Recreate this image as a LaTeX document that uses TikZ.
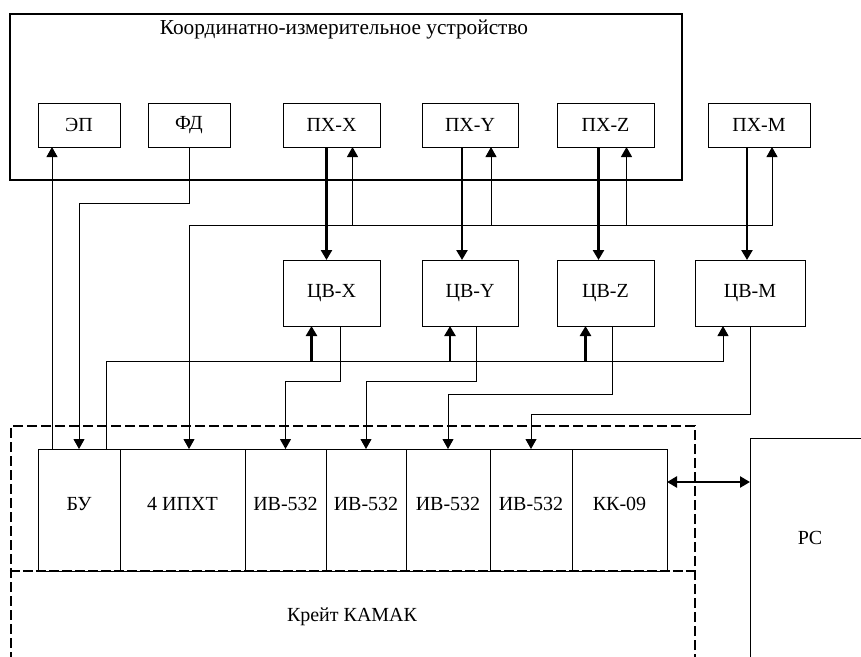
\documentclass[tikz,border=0pt]{standalone}
\usepackage{fontspec}
\setmainfont{Liberation Serif}
\usetikzlibrary{arrows.meta,positioning}

\begin{document}
\begin{tikzpicture}[
    x=1pt, y=-1pt,
    >={Triangle[length=10pt,width=11pt]},
    font=\fontsize{20}{24}\selectfont,
    % 方框與連線樣式
    box/.style={draw, line width=1pt, inner sep=0pt, outer sep=0pt},
    modbox/.style={box, minimum height=122pt, text height=14pt, text depth=14pt},
    sig/.style={->, line width=1pt},
    bus/.style={->, line width=2.4pt},
]
    \useasboundingbox (0,0) rectangle (861,656);
    \clip (0,0) rectangle (861,656);

    % --- 座標參數 (Y 由上往下) ---
    \def\yPx{125}   % ПХ 列中心
    \def\yCv{293}   % ЦВ 列中心
    \def\yMod{510}  % 機箱模組中心

    % --- 1. 座標測量裝置 (大框) ---
    \node[box, line width=2.5pt, minimum width=672pt, minimum height=166pt] (kiu) at (346,97) {};
    \node[font=\fontsize{21.3}{25}\selectfont] (kiutitle) at (344,30) {Координатно-измерительное устройство};

    \node[box, minimum width=82pt, minimum height=44pt] (ep) at (79,\yPx) {ЭП};
    \node[box, minimum width=82pt, minimum height=44pt] (fd) at (189,\yPx) {ФД};
    \node[box, minimum width=97pt, minimum height=44pt] (pxx) at (331.5,\yPx) {ПХ-X};
    \node[box, minimum width=96pt, minimum height=44pt] (pxy) at (470,\yPx) {ПХ-Y};
    \node[box, minimum width=97pt, minimum height=44pt] (pxz) at (605.5,\yPx) {ПХ-Z};
    \node[box, minimum width=102pt, minimum height=44pt] (pxm) at (759,\yPx) {ПХ-M};

    % --- 2. ЦВ 列 ---
    \node[box, minimum width=97pt, minimum height=66pt] (cvx) at (331.5,\yCv) {ЦВ-X};
    \node[box, minimum width=96pt, minimum height=66pt] (cvy) at (470,\yCv) {ЦВ-Y};
    \node[box, minimum width=97pt, minimum height=66pt] (cvz) at (605.5,\yCv) {ЦВ-Z};
    \node[box, minimum width=110pt, minimum height=66pt] (cvm) at (750,\yCv) {ЦВ-M};

    % --- 3. 機箱 КАМАК ---
    \node[draw, line width=2.5pt, dash pattern=on 10pt off 4pt, inner sep=0pt,
          minimum width=684pt, minimum height=254pt] (krate) at (353,553) {};
    \node (krlabel) at (352,617) {Крейт КАМАК};

    \node[modbox, minimum width=82pt] (bu) at (79,\yMod) {БУ};
    \node[modbox, minimum width=125pt] (ipxt) at (182.5,\yMod) {4 ИПХТ};
    \node[modbox, minimum width=81pt] (iv1) at (285.5,\yMod) {ИВ-532};
    \node[modbox, minimum width=80pt] (iv2) at (366,\yMod) {ИВ-532};
    \node[modbox, minimum width=84pt] (iv3) at (448,\yMod) {ИВ-532};
    \node[modbox, minimum width=82pt] (iv4) at (531,\yMod) {ИВ-532};
    \node[modbox, minimum width=95pt] (kk) at (619.5,\yMod) {КК-09};

    \draw[line width=2pt, dash pattern=on 10pt off 3pt] (krate.west |- bu.south) -- (krate.east |- bu.south);

    % --- 4. PC ---
    \node[box, anchor=north west, minimum width=220pt, minimum height=330pt] (pc) at (750,438) {};
    \node (pclabel) at (810,538) {PC};

    % --- 5. 連線 ---
    % БУ -> ЭП
    \draw[sig] ([xshift=-27pt]bu.north) -- ([xshift=-27pt]ep.south);

    % ФД -> БУ
    \coordinate (fdturn) at (189,203);
    \draw[sig] (fd.south) -- (fdturn) -| (bu.north);

    % 4 ИПХТ <-> ПХ
    \coordinate (busA) at (189,225);
    \draw[sig] (busA) -| ([xshift=13pt]pxm.south);
    \draw[sig] (busA) -- (busA |- ipxt.north);
    \foreach \n in {pxx,pxy,pxz}
        \draw[sig] ([xshift=21pt]\n.south |- busA) -- ([xshift=21pt]\n.south);

    % ПХ -> ЦВ (粗線)
    \foreach \a/\b/\d in {pxx/cvx/-5, pxy/cvy/-8, pxz/cvz/-7, pxm/cvm/-12}
        \draw[bus] ([xshift=\d pt]\a.south) -- ([xshift=\d pt]\a.south |- \b.north);

    % БУ -> ЦВ
    \coordinate (busB) at (106,361);
    \draw[sig] ([xshift=27pt]bu.north) -- (busB) -| ([xshift=-27pt]cvm.south);
    \foreach \n in {cvx,cvy,cvz}
        \draw[bus] ([xshift=-20pt]\n.south |- busB) -- ([xshift=-20pt]\n.south);

    % ЦВ -> ИВ-532
    \foreach \a/\b/\d/\h in {cvx/iv1/9/68, cvy/iv2/6/68, cvz/iv3/7/55, cvm/iv4/0/35}
        \draw[sig] ([xshift=\d pt]\a.south) |- ([yshift=\h pt]\b.north) -- (\b.north);

    % КК-09 <-> PC
    \coordinate (kkport) at ([yshift=-33pt]kk.north east);
    \draw[bus, <->] (kkport) -- (kkport -| pc.west);

\end{tikzpicture}
\end{document}
